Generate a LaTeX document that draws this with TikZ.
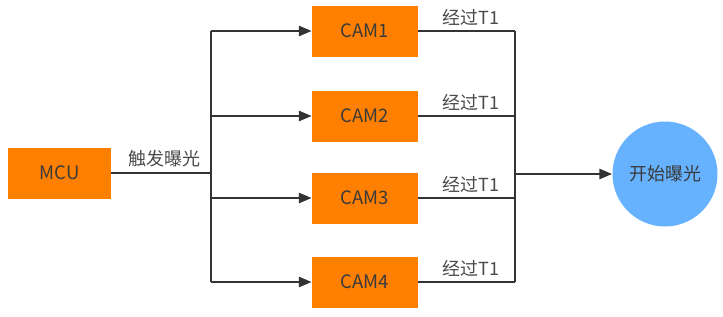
\documentclass[tikz,border=0pt]{standalone}
\usepackage{fontspec}
\setmainfont{Noto Sans CJK SC}
\usetikzlibrary{arrows.meta}
\definecolor{boxorange}{HTML}{FF8000}
\definecolor{circblue}{HTML}{66B2FF}
\definecolor{linegray}{HTML}{333333}
\definecolor{txtgray}{HTML}{3A3A3A}
\definecolor{lblgray}{HTML}{4A4A4A}
\begin{document}
\begin{tikzpicture}[x=1pt,y=-1pt,
  box/.style={fill=boxorange,draw=none,minimum width=106pt,minimum height=51pt,inner sep=0pt,font=\fontsize{18.5}{20}\selectfont,text=txtgray},
  circ/.style={circle,fill=circblue,draw=none,minimum size=105pt,inner sep=0pt,font=\fontsize{18}{20}\selectfont,text=txtgray},
  conn/.style={draw=linegray,line width=2.6pt},
  arr/.style={conn,-{Triangle[length=13pt,width=10pt]}},
  lbl/.style={font=\fontsize{18}{20}\selectfont,text=lblgray,inner sep=0pt}]
\useasboundingbox (0,0) rectangle (723,316);
\node[box,minimum width=103pt] (mcu) at (59.5,173) {MCU};
\node[box] (cam1) at (365,31) {CAM1};
\node[box] (cam2) at (365,116) {CAM2};
\node[box] (cam3) at (365,198) {CAM3};
\node[box] (cam4) at (365,282) {CAM4};
\node[circ] (start) at (665,174) {开始曝光};
\coordinate (sp) at (211,173);
\coordinate (jn) at (515,174);
\draw[conn] (mcu.east) -- (sp);
\draw[conn] (sp |- cam1) -- (sp |- cam4);
\foreach \c in {cam1,cam2,cam3,cam4}{
  \draw[arr] (sp |- \c) -- (\c.west);
  \draw[conn] (\c.east) -- (jn |- \c);
  \node[lbl,anchor=south] at ([xshift=53pt,yshift=5pt]\c.east) {经过T1};
}
\draw[conn] (jn |- cam1) -- (jn |- cam4);
\draw[arr] (jn) -- (start.west);
\node[lbl,anchor=south] at (164,167) {触发曝光};
\end{tikzpicture}
\end{document}
